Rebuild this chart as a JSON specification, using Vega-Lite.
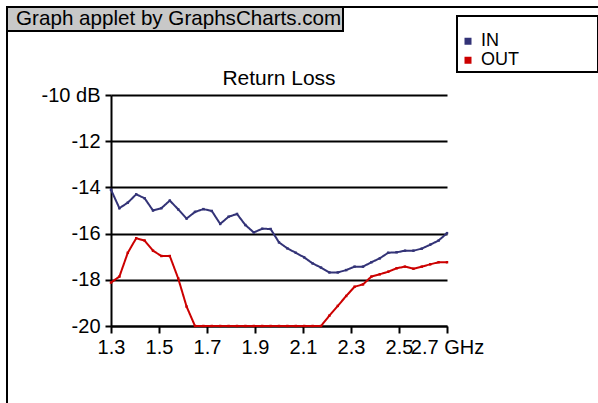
{
  "$schema": "https://vega.github.io/schema/vega-lite/v6.json",
  "width": 336,
  "height": 231,
  "autosize": {"type": "none"},
  "padding": {"left": 111, "top": 95, "right": 151, "bottom": 77},
  "background": "white",
  "title": {"text": "Return Loss", "fontSize": 21, "font": "Liberation Sans", "fontWeight": "normal", "color": "black", "anchor": "middle", "frame": "group", "offset": -83},
  "data": {"values": [
    {"f": 1.3, "IN": -14.1, "OUT": -18.12},
    {"f": 1.335, "IN": -14.9, "OUT": -17.86},
    {"f": 1.37, "IN": -14.66, "OUT": -16.83},
    {"f": 1.405, "IN": -14.3, "OUT": -16.2},
    {"f": 1.44, "IN": -14.47, "OUT": -16.3},
    {"f": 1.475, "IN": -15.0, "OUT": -16.74},
    {"f": 1.51, "IN": -14.9, "OUT": -16.97},
    {"f": 1.545, "IN": -14.57, "OUT": -16.97},
    {"f": 1.58, "IN": -14.95, "OUT": -17.94},
    {"f": 1.615, "IN": -15.35, "OUT": -19.16},
    {"f": 1.65, "IN": -15.06, "OUT": -20},
    {"f": 1.685, "IN": -14.94, "OUT": -20},
    {"f": 1.72, "IN": -15.02, "OUT": -20},
    {"f": 1.755, "IN": -15.58, "OUT": -20},
    {"f": 1.79, "IN": -15.27, "OUT": -20},
    {"f": 1.825, "IN": -15.15, "OUT": -20},
    {"f": 1.86, "IN": -15.63, "OUT": -20},
    {"f": 1.895, "IN": -15.95, "OUT": -20},
    {"f": 1.93, "IN": -15.79, "OUT": -20},
    {"f": 1.965, "IN": -15.8, "OUT": -20},
    {"f": 2.0, "IN": -16.38, "OUT": -20},
    {"f": 2.035, "IN": -16.64, "OUT": -20},
    {"f": 2.07, "IN": -16.83, "OUT": -20},
    {"f": 2.105, "IN": -17.03, "OUT": -20},
    {"f": 2.14, "IN": -17.29, "OUT": -20},
    {"f": 2.175, "IN": -17.47, "OUT": -20},
    {"f": 2.21, "IN": -17.68, "OUT": -19.55},
    {"f": 2.245, "IN": -17.68, "OUT": -19.13},
    {"f": 2.28, "IN": -17.58, "OUT": -18.7},
    {"f": 2.315, "IN": -17.43, "OUT": -18.3},
    {"f": 2.35, "IN": -17.43, "OUT": -18.2},
    {"f": 2.385, "IN": -17.24, "OUT": -17.86},
    {"f": 2.42, "IN": -17.07, "OUT": -17.76},
    {"f": 2.455, "IN": -16.83, "OUT": -17.65},
    {"f": 2.49, "IN": -16.81, "OUT": -17.5},
    {"f": 2.525, "IN": -16.74, "OUT": -17.43},
    {"f": 2.56, "IN": -16.74, "OUT": -17.52},
    {"f": 2.595, "IN": -16.65, "OUT": -17.43},
    {"f": 2.63, "IN": -16.48, "OUT": -17.33},
    {"f": 2.665, "IN": -16.3, "OUT": -17.24},
    {"f": 2.7, "IN": -15.98, "OUT": -17.24}
  ]},
  "transform": [{"fold": ["IN", "OUT"], "as": ["series", "dB"]}],
  "encoding": {
    "x": {
      "field": "f", "type": "quantitative",
      "scale": {"domain": [1.3, 2.7], "nice": false, "zero": false},
      "axis": {
        "values": [1.3, 1.5, 1.7, 1.9, 2.1, 2.3, 2.5, 2.7],
        "labelExpr": "datum.value > 2.65 ? '2.7 GHz' : format(datum.value, '.1f')",
        "title": null, "grid": false,
        "domainColor": "black", "domainWidth": 2,
        "tickColor": "black", "tickWidth": 2, "tickSize": 7,
        "labelFontSize": 20, "labelFont": "Liberation Sans", "labelColor": "black",
        "labelPadding": 4, "labelOverlap": false, "labelFlush": false, "labelBound": false
      }
    },
    "y": {
      "field": "dB", "type": "quantitative",
      "scale": {"domain": [-20, -10], "nice": false, "zero": false},
      "axis": {
        "values": [-20, -18, -16, -14, -12, -10],
        "labelExpr": "datum.value == -10 ? '-10 dB' : '-' + format(-datum.value, 'd')",
        "title": null, "grid": true, "gridColor": "black", "gridWidth": 2, "gridOpacity": 1,
        "domainColor": "black", "domainWidth": 2,
        "tickColor": "black", "tickWidth": 2, "tickSize": 6,
        "labelFontSize": 20, "labelFont": "Liberation Sans", "labelColor": "black",
        "labelPadding": 5, "labelOverlap": false, "labelFlush": false, "labelBound": false
      }
    },
    "color": {
      "field": "series", "type": "nominal",
      "scale": {"domain": ["IN", "OUT"], "range": ["#333377", "#cc0000"]},
      "legend": {
        "title": "\u2800\u2800\u2800\u2800\u2800\u2800\u2800\u2800\u2800\u2800\u2800\u2800\u2800\u2800\u2800\u2800\u2800",
        "titleFont": "DejaVu Sans", "titleFontSize": 10.3, "titlePadding": 4, "titleLimit": 400,
        "orient": "none", "legendX": 346, "legendY": -79,
        "strokeColor": "black", "padding": 2,
        "symbolType": "square", "symbolSize": 25, "symbolStrokeWidth": 2,
        "labelFontSize": 18, "labelFont": "Liberation Sans", "labelColor": "black",
        "labelOffset": 4, "rowPadding": 1
      }
    }
  },
  "layer": [
    {
      "mark": {"type": "line", "strokeWidth": 2},
      "encoding": {
        "strokeDash": {
          "datum": "Graph applet by GraphsCharts.com", "type": "nominal",
          "scale": {"range": [[1, 0]]},
          "legend": {
            "title": null, "orient": "none", "legendX": -104, "legendY": -88,
            "fillColor": "#c8c8c8", "strokeColor": "black", "padding": 1.5,
            "symbolSize": 0, "symbolOpacity": 0, "symbolStrokeWidth": 0,
            "labelFontSize": 20.6, "labelFont": "Liberation Sans", "labelColor": "black",
            "labelOffset": -13, "labelLimit": 600
          }
        }
      }
    },
    {
      "mark": {"type": "point", "filled": true, "size": 6, "opacity": 1},
      "encoding": {
        "shape": {
          "datum": " ", "type": "nominal",
          "scale": {"range": ["square"]},
          "legend": {
            "title": null, "orient": "none", "legendX": -104, "legendY": -88,
            "strokeColor": "black", "padding": 400,
            "symbolOpacity": 0, "symbolStrokeWidth": 0,
            "labelFontSize": 1, "labelColor": "white"
          }
        }
      }
    }
  ],
  "config": {
    "legend": {"strokeWidth": 2},
    "view": {"stroke": null}
  }
}
